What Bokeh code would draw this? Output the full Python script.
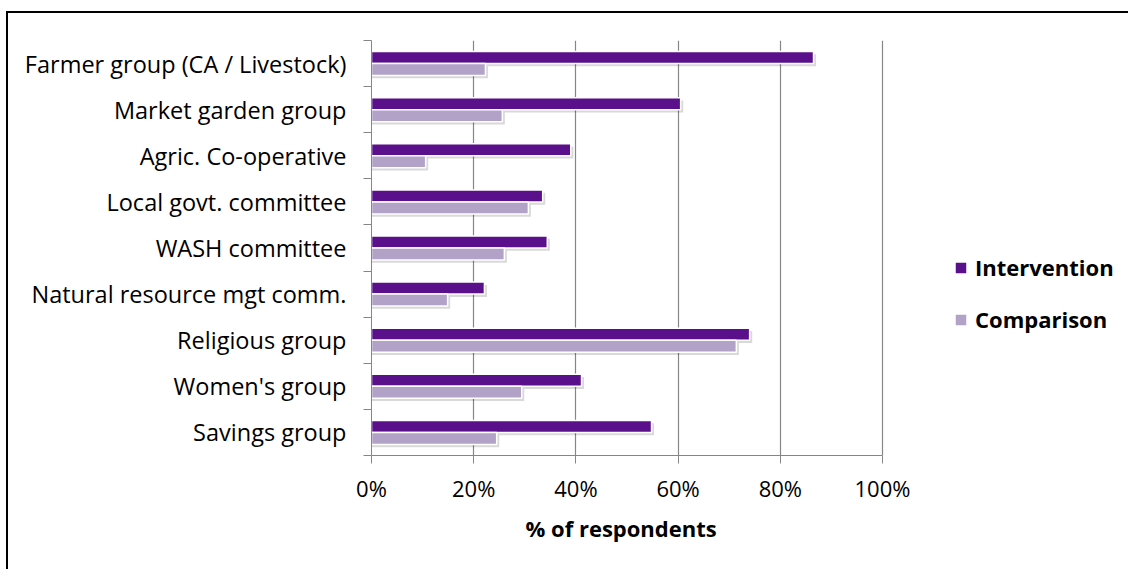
from bokeh.plotting import figure
from bokeh.models import (ColumnDataSource, Range1d, FixedTicker, Legend, LegendItem,
                          PrintfTickFormatter, Title)
from bokeh.transform import dodge
from bokeh.embed import file_html
from bokeh.resources import INLINE

# Group membership, % of respondents (listed bottom to top)
categories = [
    "Savings group",
    "Women's group",
    "Religious group",
    "Natural resource mgt comm.",
    "WASH committee",
    "Local govt. committee",
    "Agric. Co-operative",
    "Market garden group",
    "Farmer group (CA / Livestock)",
]
intervention = [54.8, 41.1, 74.0, 22.1, 34.4, 33.5, 39.0, 60.5, 86.5]
comparison = [24.5, 29.4, 71.4, 14.9, 26.0, 30.7, 10.6, 25.6, 22.3]
x_ticks = [0, 20, 40, 60, 80, 100]

FONT = "Open Sans"
INTERVENTION_COLOR = "#5a108a"
COMPARISON_COLOR = "#b3a2c8"
GRID_COLOR = "#868686"

# the value axis covers 0-100 %; the frame runs on to the right edge so the
# legend can sit beside the bars
PLOT_W, PLOT_H = 1122, 558
LEFT, TOP, BOTTOM = 363, 27, 116
AXIS_PX = 511
x_end = 100 * (PLOT_W - LEFT) / AXIS_PX

centers = [i + 0.5 for i in range(len(categories))]
source = ColumnDataSource(dict(
    y=centers,
    intervention=intervention,
    comparison=comparison,
    intervention_shadow=[v + 0.5 for v in intervention],
    comparison_shadow=[v + 0.5 for v in comparison],
))

p = figure(
    width=PLOT_W, height=PLOT_H,
    x_range=Range1d(0, x_end), y_range=Range1d(0, len(categories)),
    output_backend="svg", toolbar_location=None,
    min_border_left=LEFT, min_border_right=0,
    min_border_top=TOP, min_border_bottom=BOTTOM,
)
p.styles = {
    "margin-left": "6px", "margin-top": "11px",
    "border-left": "2px solid black", "border-top": "2px solid black",
}
p.outline_line_color = None
p.background_fill_color = "white"
p.border_fill_color = "white"

# soft drop shadows under the bars
bar_h = 0.26
for key, off in (("intervention_shadow", 0.13), ("comparison_shadow", -0.13)):
    p.hbar(y=dodge("y", off - 0.06, range=p.y_range), left=0, right=key,
           height=bar_h, source=source, fill_color="black", fill_alpha=0.15,
           line_color=None)

r_int = p.hbar(y=dodge("y", 0.13, range=p.y_range), left=0, right="intervention",
               height=bar_h, source=source, fill_color=INTERVENTION_COLOR,
               line_color="white", line_width=1.5)
r_cmp = p.hbar(y=dodge("y", -0.13, range=p.y_range), left=0, right="comparison",
               height=bar_h, source=source, fill_color=COMPARISON_COLOR,
               line_color="white", line_width=1.5)

# x axis
p.xaxis.bounds = (0, 100)
p.xaxis.ticker = FixedTicker(ticks=x_ticks)
p.xaxis.formatter = PrintfTickFormatter(format="%d%%")
p.xaxis.axis_line_color = GRID_COLOR
p.xaxis.major_tick_line_color = GRID_COLOR
p.xaxis.major_tick_out = 8
p.xaxis.major_tick_in = 0
p.xaxis.minor_tick_line_color = None
p.xaxis.major_label_text_font = FONT
p.xaxis.major_label_text_font_size = "22px"
p.xaxis.major_label_text_color = "black"
p.xaxis.major_label_standoff = 9

# x axis title, centred under the 0-100 % span
p.add_layout(Title(text="% of respondents", align="left", offset=154, standoff=10,
                   text_font=FONT, text_font_size="22px", text_font_style="bold",
                   text_color="black"), "below")

# y axis: labels at band centers, ticks on band boundaries
p.yaxis.ticker = FixedTicker(ticks=centers, minor_ticks=list(range(len(categories) + 1)))
p.yaxis.major_label_overrides = {c: name for c, name in zip(centers, categories)}
p.yaxis.axis_line_color = GRID_COLOR
p.yaxis.major_tick_line_color = None
p.yaxis.major_tick_out = 0
p.yaxis.major_tick_in = 0
p.yaxis.minor_tick_line_color = GRID_COLOR
p.yaxis.minor_tick_out = 8
p.yaxis.minor_tick_in = 0
p.yaxis.major_label_text_font = FONT
p.yaxis.major_label_text_font_size = "23.5px"
p.yaxis.major_label_text_color = "black"
p.yaxis.major_label_standoff = 17

p.xgrid.ticker = FixedTicker(ticks=x_ticks)
p.xgrid.grid_line_color = GRID_COLOR
p.xgrid.grid_line_width = 1.2
p.ygrid.grid_line_color = None

legend = Legend(
    items=[LegendItem(label="Intervention", renderers=[r_int]),
           LegendItem(label="Comparison", renderers=[r_cmp])],
    location=(582, 121), orientation="vertical",
    glyph_width=15, glyph_height=15, label_height=28, label_standoff=7,
    spacing=22, padding=0, margin=0,
    border_line_color=None, background_fill_alpha=0,
    label_text_font=FONT, label_text_font_size="22px",
    label_text_font_style="bold", label_text_color="black",
)
p.add_layout(legend, "center")

open("out.html", "w").write(file_html(p, INLINE))
